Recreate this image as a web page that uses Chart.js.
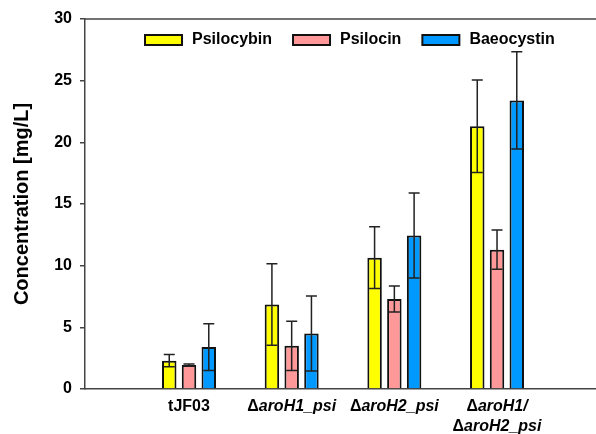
<!DOCTYPE html>
<html lang="en">
<head>
<meta charset="UTF-8">
<title>Psilocybin, psilocin and baeocystin titers</title>
<script src="https://cdn.jsdelivr.net/npm/chart.js"></script>
<style>
  html, body { margin: 0; padding: 0; background: #fff; }
  .wrap { width: 596px; height: 434px; }
</style>
</head>
<body>
<div class="wrap"><canvas id="myChart"></canvas></div>
<script>
  // strains on the x axis, '\n' splits a label in two lines
  const strains = ['tJF03', 'ΔaroH1_psi', 'ΔaroH2_psi', 'ΔaroH1/\nΔaroH2_psi']

  // concentrations in mg/L and their error (+/-)
  const psilocybin = [2.3, 6.85, 10.65, 21.3]
  const psilocybinErr = [0.5, 3.3, 2.5, 3.75]
  const psilocin = [1.95, 3.5, 7.3, 11.3]
  const psilocinErr = [0.08, 2.0, 1.05, 1.6]
  const baeocystin = [3.4, 4.5, 12.45, 23.4]
  const baeocystinErr = [1.9, 3.05, 3.45, 3.95]

  const yMin = 0, yMax = 30, yStep = 5

  const FONT = '"Liberation Sans", Arial, Helvetica, sans-serif'
  const AXIS = '#444'

  function toPoints(values) {
    return values.map((v, i) => ({ x: i + 1, y: v }))
  }

  // black error bars, drawn on top of the bars
  const errorBars = {
    id: 'errorBars',
    afterDatasetsDraw(chart) {
      const ctx = chart.ctx
      const y = chart.scales.y
      ctx.save()
      ctx.strokeStyle = '#222'
      ctx.lineWidth = 1.5
      chart.data.datasets.forEach((ds, di) => {
        chart.getDatasetMeta(di).data.forEach((bar, i) => {
          const v = ds.data[i].y, e = ds.err[i]
          const top = y.getPixelForValue(v + e)
          const bot = y.getPixelForValue(Math.max(v - e, 0))
          ctx.beginPath()
          ctx.moveTo(bar.x, top); ctx.lineTo(bar.x, bot)
          ctx.moveTo(bar.x - 5.5, top); ctx.lineTo(bar.x + 5.5, top)
          ctx.moveTo(bar.x - 5.5, bot); ctx.lineTo(bar.x + 5.5, bot)
          ctx.stroke()
        })
      })
      ctx.restore()
    }
  }

  // label with an upright delta and the gene name in italics
  function drawStrainLabel(ctx, text, cx, cy) {
    const upright = 'bold 16px ' + FONT
    const italic = 'italic bold 16px ' + FONT
    let head = '', tail = text
    if (text.startsWith('Δ')) { head = 'Δ'; tail = text.slice(1) }
    else { head = text; tail = '' }
    ctx.font = upright
    const w1 = ctx.measureText(head).width
    ctx.font = italic
    const w2 = ctx.measureText(tail).width
    let x = cx - (w1 + w2) / 2
    ctx.textAlign = 'left'
    ctx.textBaseline = 'middle'
    ctx.fillStyle = '#000'
    ctx.font = upright
    ctx.fillText(head, x, cy)
    ctx.font = italic
    ctx.fillText(tail, x + w1, cy)
  }

  const decorations = {
    id: 'decorations',
    afterDraw(chart) {
      const ctx = chart.ctx
      const a = chart.chartArea
      const x = chart.scales.x
      ctx.save()

      // top frame line
      ctx.strokeStyle = AXIS
      ctx.lineWidth = 1.5
      ctx.beginPath()
      ctx.moveTo(a.left, a.top)
      ctx.lineTo(a.right, a.top)
      ctx.stroke()

      // legend inside the plot
      ctx.font = 'bold 16px ' + FONT
      ctx.textAlign = 'left'
      ctx.textBaseline = 'middle'
      let lx = a.left + 60
      const ly = a.top + 21
      chart.data.datasets.forEach(ds => {
        ctx.fillStyle = ds.backgroundColor
        ctx.fillRect(lx, ly - 5, 37, 10)
        ctx.strokeStyle = '#111'
        ctx.lineWidth = 2
        ctx.strokeRect(lx, ly - 5, 37, 10)
        ctx.fillStyle = '#000'
        ctx.fillText(ds.label, lx + 47, ly)
        lx += 47 + ctx.measureText(ds.label).width + 21
      })

      // strain labels under the axis
      strains.forEach((name, i) => {
        const cx = x.getPixelForValue(i + 1)
        name.split('\n').forEach((line, li) => {
          drawStrainLabel(ctx, line, cx, a.bottom + 18 + li * 20)
        })
      })
      ctx.restore()
    }
  }

  function makeSet(label, values, errs, color) {
    return {
      label: label,
      data: toPoints(values),
      err: errs,
      backgroundColor: color,
      borderColor: '#111',
      borderWidth: 2,
      borderSkipped: 'start',
      categoryPercentage: 0.599,
      barPercentage: 0.732
    }
  }

  const ctx = document.getElementById('myChart').getContext('2d')
  const chart = new Chart(ctx, {
    type: 'bar',
    data: {
      datasets: [
        makeSet('Psilocybin', psilocybin, psilocybinErr, '#FFFF00'),
        makeSet('Psilocin', psilocin, psilocinErr, '#FF9999'),
        makeSet('Baeocystin', baeocystin, baeocystinErr, '#0099FF')
      ]
    },
    options: {
      responsive: true,
      maintainAspectRatio: false,
      animation: false,
      layout: { padding: { top: 19, right: 0, bottom: 0, left: 0 } },
      scales: {
        x: {
          type: 'linear',
          offset: false,
          min: -0.013,
          max: 4.964,
          ticks: { display: false },
          grid: { display: false, offset: false },
          border: { color: AXIS, width: 1.5 },
          afterFit(s) { s.height = 45 }
        },
        y: {
          min: yMin,
          max: yMax,
          ticks: {
            stepSize: yStep,
            padding: 8,
            color: '#000',
            font: { family: FONT, size: 16, weight: 'bold' }
          },
          grid: { drawOnChartArea: false, tickLength: 5, color: AXIS, lineWidth: 1.5 },
          border: { color: AXIS, width: 1.5 },
          title: {
            display: true,
            text: 'Concentration [mg/L]',
            color: '#000',
            font: { family: FONT, size: 20, weight: 'bold' },
            padding: { top: 10, bottom: 0 }
          },
          afterFit(s) { s.width = 85 }
        }
      },
      plugins: {
        legend: { display: false },
        tooltip: { enabled: false }
      }
    },
    plugins: [errorBars, decorations]
  })
</script>
</body>
</html>
